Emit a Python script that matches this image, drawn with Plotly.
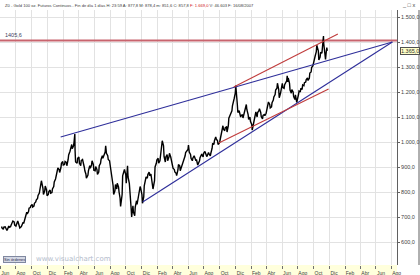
import plotly.graph_objects as go
import pandas as pd

# ---- data ----
dates = [
"2007-06-08","2007-06-15","2007-06-22","2007-06-29","2007-07-06","2007-07-13","2007-07-20","2007-07-27",
"2007-08-03","2007-08-10","2007-08-16","2007-08-24","2007-08-31","2007-09-07","2007-09-14","2007-09-21",
"2007-09-28","2007-10-05","2007-10-12","2007-10-19","2007-10-26","2007-11-02","2007-11-08","2007-11-16",
"2007-11-23","2007-11-30","2007-12-07","2007-12-14","2007-12-21","2007-12-28",
"2008-01-04","2008-01-11","2008-01-18","2008-01-25","2008-02-01","2008-02-08","2008-02-15","2008-02-22",
"2008-02-29","2008-03-07","2008-03-14","2008-03-17","2008-03-20","2008-03-28","2008-04-04","2008-04-11",
"2008-04-18","2008-04-25","2008-05-01","2008-05-09","2008-05-16","2008-05-23","2008-05-30","2008-06-06",
"2008-06-13","2008-06-20","2008-06-27","2008-07-04","2008-07-15","2008-07-18","2008-07-25","2008-08-01",
"2008-08-08","2008-08-15","2008-08-22","2008-08-29","2008-09-05","2008-09-11","2008-09-19","2008-09-26",
"2008-10-03","2008-10-10","2008-10-17","2008-10-24","2008-10-31","2008-11-07","2008-11-14","2008-11-21",
"2008-11-28","2008-12-05","2008-12-12","2008-12-19","2008-12-26",
"2009-01-02","2009-01-09","2009-01-15","2009-01-23","2009-01-30","2009-02-06","2009-02-13","2009-02-20",
"2009-02-27","2009-03-06","2009-03-13","2009-03-20","2009-03-27","2009-04-03","2009-04-10","2009-04-17",
"2009-04-24","2009-05-01","2009-05-08","2009-05-15","2009-05-22","2009-06-02","2009-06-05","2009-06-12",
"2009-06-19","2009-06-26","2009-07-03","2009-07-08","2009-07-17","2009-07-24","2009-07-31","2009-08-07",
"2009-08-14","2009-08-21","2009-08-28","2009-09-04","2009-09-11","2009-09-18","2009-09-25","2009-10-02",
"2009-10-09","2009-10-16","2009-10-23","2009-10-30","2009-11-06","2009-11-13","2009-11-20","2009-11-27",
"2009-12-03","2009-12-11","2009-12-18","2009-12-24","2009-12-31",
"2010-01-08","2010-01-15","2010-01-22","2010-01-29","2010-02-05","2010-02-12","2010-02-19","2010-02-26",
"2010-03-05","2010-03-12","2010-03-19","2010-03-26","2010-04-02","2010-04-09","2010-04-16","2010-04-23",
"2010-04-30","2010-05-07","2010-05-14","2010-05-21","2010-05-28","2010-06-04","2010-06-11","2010-06-21",
"2010-06-25","2010-07-02","2010-07-09","2010-07-16","2010-07-23","2010-07-28","2010-08-06","2010-08-13",
"2010-08-20","2010-08-27","2010-09-03","2010-09-10","2010-09-17","2010-09-24","2010-10-01","2010-10-08",
"2010-10-14","2010-10-22","2010-10-29","2010-11-05","2010-11-09","2010-11-12","2010-11-16","2010-11-19",
"2010-11-24",
]
closes = [
656,660,654,650,659,667,684,668,
673,678,656,670,674,703,712,735,
745,740,755,768,786,808,845,790,
824,785,802,795,812,840,
865,896,878,915,908,922,905,948,
975,973,1000,1032,920,935,915,926,
915,885,855,885,895,925,887,902,
870,905,930,935,985,955,930,912,
865,790,830,835,800,742,865,890,
835,860,790,700,720,740,750,800,
815,755,825,860,870,
865,855,812,900,928,915,945,1005,
942,940,925,955,925,895,880,866,
910,885,915,930,958,988,960,935,
935,940,930,908,937,950,955,955,
945,952,955,995,1005,1012,990,1003,
1050,1052,1057,1040,1095,1115,1145,1175,
1226,1118,1110,1105,1096,
1138,1130,1090,1083,1048,1093,1120,1118,
1133,1102,1106,1105,1126,1160,1136,1157,
1180,1208,1235,1177,1213,1218,1229,1265,
1256,1208,1210,1182,1189,1158,1204,1215,
1228,1237,1250,1246,1276,1298,1317,1345,
1387,1328,1359,1394,1424,1367,1338,1352,
1365,
]
# mid-week swing values (one per week, drawn two days before each close)
midweek = [
662,651,661,646,664,661,676,680,
664,684,668,662,679,690,719,722,
738,750,744,760,774,796,825,815,
805,808,790,808,798,822,
852,880,890,898,922,910,918,930,
962,990,985,1010,965,915,940,905,
930,898,872,868,905,908,910,885,
890,880,915,945,960,972,945,925,
885,825,805,812,820,775,790,878,
870,905,835,735,745,705,765,778,
822,790,780,850,855,
880,872,840,845,915,935,925,975,
985,920,950,940,940,905,890,875,
888,905,900,925,945,970,975,950,
925,945,925,920,925,948,940,962,
942,958,945,975,990,1020,1005,995,
1030,1065,1045,1060,1065,1110,1125,1160,
1195,1150,1125,1100,1110,
1120,1150,1110,1100,1070,1075,1105,1100,
1125,1118,1092,1110,1115,1140,1150,1140,
1168,1190,1215,1210,1195,1235,1215,1245,
1240,1235,1195,1200,1170,1175,1190,1200,
1210,1225,1240,1256,1255,1280,1305,1330,
1360,1365,1340,1355,1405,1395,1360,1330,
1378,
]

# trend lines: [start date, end date], [start value, end value]
upper_blue_x = ["2008-01-22", "2011-08-04"]
upper_blue_y = [1020, 1400]
lower_blue_x = ["2008-12-06", "2011-08-04"]
lower_blue_y = [760, 1400]
upper_red_x = ["2009-11-25", "2011-01-04"]
upper_red_y = [1220, 1432]
lower_red_x = ["2009-09-28", "2010-11-29"]
lower_red_y = [996, 1212]
level_value = 1405.6
level_label = "1405,6"
last_value = 1365.0
last_label = "1.365,0"

x_range = ["2007-05-31", "2011-08-22"]
y_range = [508, 1528]

x_tick_vals = ["2007-06-01","2007-08-01","2007-10-01","2007-12-01","2008-02-01","2008-04-01","2008-06-01",
               "2008-08-01","2008-10-01","2008-12-01","2009-02-01","2009-04-01","2009-06-01","2009-08-01",
               "2009-10-01","2009-12-01","2010-02-01","2010-04-01","2010-06-01","2010-08-01","2010-10-01",
               "2010-12-01","2011-02-01","2011-04-01","2011-06-01","2011-08-01"]
x_tick_text = ["Jun","Ago","Oct","Dic","Feb","Abr","Jun","Ago","Oct","Dic","Feb","Abr","Jun","Ago",
               "Oct","Dic","Feb","Abr","Jun","Ago","Oct","Dic","Feb","Abr","Jun","Ago"]
y_tick_vals = [600, 700, 800, 900, 1000, 1100, 1200, 1300, 1400, 1500]
y_tick_text = ["600,0","700,0","800,0","900,0","1.000,0","1.100,0","1.200,0","1.300,0","1.400,0","1.500,0"]

header = ("Z0 - Gold 100 oz. Futuros Continuos - Fin de día 1 días H: 23:59 A: 877,8 M: 878,4 "
          "m: 851,6 C: 857,8 <span style='color:#d02020'>F: 1.669,0</span> V: 46.603 F: 16/08/2007")

# interleave mid-week swings and closes into one price path
path_x, path_y = [], []
for d, m, c in zip(dates, midweek, closes):
    t = pd.Timestamp(d)
    path_x += [t - pd.Timedelta(days=2), t]
    path_y += [m, c]

W, H = 420, 275
ML, MR, MT, MB = 0, 23, 10, 10
PW, PH = W - ML - MR, H - MT - MB

BLUE = "#2e2e9a"
RED = "#c03c3c"
LEVEL = "#c8646e"

fig = go.Figure()
fig.add_trace(go.Scatter(x=x_range, y=[level_value, level_value], mode="lines",
                         line=dict(color=LEVEL, width=2), hoverinfo="skip"))
fig.add_trace(go.Scatter(x=path_x, y=path_y, mode="lines",
                         line=dict(color="black", width=1.4)))
for lx, ly, c in [(upper_blue_x, upper_blue_y, BLUE), (lower_blue_x, lower_blue_y, BLUE),
                  (upper_red_x, upper_red_y, RED), (lower_red_x, lower_red_y, RED)]:
    fig.add_trace(go.Scatter(x=lx, y=ly, mode="lines", line=dict(color=c, width=1.1)))

font = "Liberation Sans"
annotations = [
    dict(x=3 / PW, xref="paper", y=level_value, yref="y", text=level_label, showarrow=False,
         xanchor="left", yanchor="bottom", yshift=1, font=dict(size=5.5, color="#404060", family=font)),
    dict(x=3 / PW, xref="paper", y=1 + 5 / PH, yref="paper", text=header, showarrow=False,
         xanchor="left", yanchor="middle", font=dict(size=4.1, color="#404040", family=font)),
    dict(x=(W - 3) / PW, xref="paper", y=1 + 5 / PH, yref="paper", text="_ □ x", showarrow=False,
         xanchor="right", yanchor="middle", font=dict(size=5.5, color="#404040", family=font)),
    dict(x=1, xref="paper", y=last_value, yref="y", text=last_label, showarrow=False,
         xanchor="left", yanchor="middle", xshift=3, bgcolor="#ffffc8", bordercolor="#505050",
         borderwidth=1, borderpad=0, font=dict(size=5.5, color="#303030", family=font)),
    dict(x=3 / PW, xref="paper", y=6 / PH, yref="paper", text="Sin órdenes", showarrow=False,
         xanchor="left", yanchor="middle", bgcolor="#d4d8e4", bordercolor="#8088a0",
         borderwidth=1, borderpad=0, font=dict(size=4, color="#303050", family=font)),
    dict(x=34 / PW, xref="paper", y=6 / PH, yref="paper", text="www.visualchart.com", showarrow=False,
         xanchor="left", yanchor="middle", font=dict(size=7, color="#b4bccc", family="DejaVu Sans")),
]

shapes = [
    dict(type="rect", xref="paper", yref="paper", x0=0, x1=1, y0=-MB / PH, y1=0,
         fillcolor="#ffffdc", line=dict(width=0), layer="below"),
    dict(type="line", xref="paper", yref="paper", x0=(W - 1) / PW, x1=(W - 1) / PW, y0=0, y1=1,
         line=dict(color="#606060", width=1)),
]

fig.update_layout(
    template="none",
    width=W, height=H, autosize=False,
    margin=dict(l=ML, r=MR, t=MT, b=MB, pad=0),
    paper_bgcolor="white", plot_bgcolor="white",
    showlegend=False,
    annotations=annotations, shapes=shapes,
    xaxis=dict(type="date", range=x_range, tickvals=x_tick_vals, ticktext=x_tick_text,
               showgrid=True, gridcolor="#e2e2e2", gridwidth=1, zeroline=False,
               ticks="outside", ticklen=3, tickcolor="#707070", tickwidth=1,
               showline=False, automargin=False, ticklabelshift=5, ticklabelstandoff=0,
               tickfont=dict(size=5, color="#404040", family=font)),
    yaxis=dict(side="right", range=y_range, tickvals=y_tick_vals, ticktext=y_tick_text,
               showgrid=True, gridcolor="#e2e2e2", gridwidth=1, zeroline=False,
               ticks="outside", ticklen=2, tickcolor="#606060", tickwidth=1,
               showline=True, linecolor="#606060", linewidth=1, automargin=False,
               tickfont=dict(size=5.5, color="#404040", family=font)),
)

fig.write_html("out.html")
